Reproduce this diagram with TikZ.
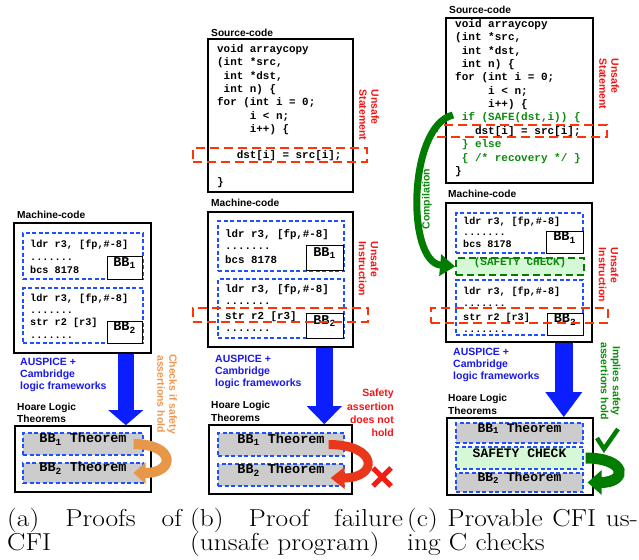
\documentclass[tikz,border=0pt]{standalone}
\usepackage{fontspec}
\setsansfont{Liberation Sans}
\setmonofont{Liberation Mono}
\usetikzlibrary{arrows.meta,calc,fit}
\definecolor{dblue}{RGB}{30,80,255}
\definecolor{ablue}{RGB}{10,30,255}
\definecolor{tblue}{RGB}{25,25,235}
\definecolor{tred}{RGB}{245,20,20}
\definecolor{rdash}{RGB}{255,50,10}
\definecolor{xred}{RGB}{240,30,20}
\definecolor{ared}{RGB}{235,55,25}
\definecolor{aorange}{RGB}{232,150,72}
\definecolor{torange}{RGB}{240,150,80}
\definecolor{dgreen}{RGB}{0,125,0}
\definecolor{tgreen}{RGB}{10,140,10}
\definecolor{lgreen}{RGB}{215,248,215}
\definecolor{thgray}{RGB}{204,204,204}
\tikzset{
  lbl/.style={font=\sffamily\bfseries\fontsize{10.2}{12.5}\selectfont, inner sep=0pt, align=left},
  side/.style={font=\sffamily\bfseries\fontsize{10.5}{12}\selectfont, inner sep=0pt},
  code/.style={font=\ttfamily\bfseries\fontsize{#1}{#1}\selectfont, inner sep=0pt, anchor=base west},
  outer/.style={draw=black, line width=1.6pt, inner sep=0pt},
  bbdash/.style={draw=dblue, line width=1.2pt, dash pattern=on 4pt off 2.5pt, inner sep=0pt},
  bblab/.style={draw=black, line width=1pt, fill=white, inner sep=0pt, font=\ttfamily\bfseries\fontsize{13.5}{14}\selectfont},
  thm/.style={bbdash, fill=thgray, font=\ttfamily\bfseries\fontsize{#1}{14}\selectfont},
  reddash/.style={draw=rdash, line width=1.8pt, dash pattern=on 9pt off 5pt, inner sep=0pt},
  bigarrow/.style={draw=ablue, line width=#1},
  captxt/.style={font=\fontsize{24.5}{24}\selectfont, inner sep=0pt, anchor=base west},
}
\newcommand{\capline}[2]{\scalebox{1.12}[1]{\hbox to #1pt{#2}}}
\begin{document}
\begin{tikzpicture}[x=1pt,y=-1pt]
\useasboundingbox (0,0) rectangle (639,559);

% ================= (a) =================
\node[lbl, anchor=west] (mlA) at (17,215) {Machine-code};
\node[outer, fit={(14,223) (151,353)}] (mcA) {};
\node[bbdash, fit={(23,233) (143,279)}] (bb1A) {};
\node[bbdash, fit={(23,288) (143,343)}] (bb2A) {};
\node[code=10.2] (a1) at (30,247.5) {ldr r3, [fp,\#-8]};
\node[code=10.2] (a2) at (30,260) {.......};
\node[code=10.2] (a3) at (30,273.5) {bcs 8178};
\node[code=10.2] (a4) at (30,301.5) {ldr r3, [fp,\#-8]};
\node[code=10.2] (a5) at (30,313.5) {.......};
\node[code=10.2] (a6) at (30,325.5) {str r2 [r3]};
\node[code=10.2] (a7) at (30,338) {.......};
\node[bblab, fit={(107,256) (142,279)}] (l1A) {BB\textsubscript{1}};
\node[bblab, fit={(107,321) (142,343)}] (l2A) {BB\textsubscript{2}};
\node[side, text=tblue, anchor=west, align=left] (auA) at (20,375) {AUSPICE +\\Cambridge\\logic frameworks};
\node[lbl, anchor=west] (hlA) at (17,413) {Hoare Logic\\Theorems};
\node[outer, fit={(15,426) (151,492)}] (thA) {};
\node[thm=13.5, fit={(23,433) (143,455)}] (t1A) {BB\textsubscript{1} Theorem};
\node[thm=13.5, fit={(23,463) (143,483)}] (t2A) {BB\textsubscript{2} Theorem};
\node[side, text=torange, rotate=-90, align=center] (ckA) at (167,394) {Checks if safety\\assertions hold};
\draw[bigarrow=16pt, -{Triangle[length=15pt,width=34pt]}] ($(mcA.south east)+(-26,0)$) -- ($(thA.north east)+(-26,0)$);
\draw[draw=aorange, line width=10pt, -{Triangle[length=12pt,width=21pt]}]
  ($(t1A.east)+(-10,0)$) .. controls +(42,0) and +(42,0) .. ($(t2A.east)+(-10,0)$);

% ================= (b) =================
\node[lbl, anchor=west] (slB) at (211,33) {Source-code};
\node[outer, fit={(208,39) (353,192)}] (srcB) {};
\node[code=10.9] (b1) at (217,52.5) {void arraycopy};
\node[code=10.9] (b2) at (217,65.8) {(int *src,};
\node[code=10.9] (b3) at (217,79.1) {~int *dst,};
\node[code=10.9] (b4) at (217,92.4) {~int n) \{};
\node[code=10.9] (b5) at (217,105.7) {for (int i = 0;};
\node[code=10.9] (b6) at (217,119) {~~~~~i < n;};
\node[code=10.9] (b7) at (217,132.3) {~~~~~i++) \{};
\node[code=10.9] (b8) at (217,158.9) {~~~dst[i] = src[i];};
\node[code=10.9] (b9) at (217,185.5) {\}};
\node[side, text=tred, rotate=-90, align=left] (usB) at (369,115) {Unsafe\\Statement};

\node[lbl, anchor=west] (mlB) at (211,203) {Machine-code};
\node[outer, fit={(208,212) (353,347)}] (mcB) {};
\node[bbdash, fit={(218,221) (344,271)}] (bb1B) {};
\node[bbdash, fit={(218,279) (344,338)}] (bb2B) {};
\node[code=10.8] (c1) at (225,237.5) {ldr r3, [fp,\#-8]};
\node[code=10.8] (c2) at (225,249.5) {.......};
\node[code=10.8] (c3) at (225,263.5) {bcs 8178};
\node[code=10.8] (c4) at (225,292.5) {ldr r3, [fp,\#-8]};
\node[code=10.8] (c5) at (225,304.5) {.......};
\node[code=10.8] (c6) at (225,319.5) {str r2 [r3]};
\node[code=10.8] (c7) at (225,331.5) {.......};
\node[bblab, fit={(306,245) (343,270)}] (l1B) {BB\textsubscript{1}};
\node[bblab, fit={(306,313) (343,338)}] (l2B) {BB\textsubscript{2}};
\node[side, text=tred, rotate=-90, align=left] (uiB) at (368.5,269) {Unsafe\\Instruction};
\node[side, text=tblue, anchor=west, align=left] (auB) at (215,372) {AUSPICE +\\Cambridge\\logic frameworks};
\node[lbl, anchor=west] (hlB) at (211,411.5) {Hoare Logic\\Theorems};
\node[side, text=tred, anchor=east, align=right, font=\sffamily\bfseries\fontsize{10.5}{13.3}\selectfont] (saB) at (394,413) {Safety\\assertion\\does not\\hold};
\node[outer, fit={(209,425) (352,494)}] (thB) {};
\node[thm=13.5, fit={(218,433) (344,456)}] (t1B) {BB\textsubscript{1} Theorem};
\node[thm=13.5, fit={(218,464) (344,486)}] (t2B) {BB\textsubscript{2} Theorem};
\node[reddash, fit={(193,148) (367,162)}] (rsB) {};
\node[reddash, fit={(193,308) (368,322)}] (riB) {};
\draw[bigarrow=17pt, -{Triangle[length=18pt,width=34pt]}] ($(mcB.south east)+(-29.5,0)$) -- ($(thB.north east)+(-28.5,0)$);
\draw[draw=ared, line width=9pt, -{Triangle[length=14pt,width=21pt]}]
  ($(t1B.east)+(-16,0)$) .. controls +(50,0) and +(48,0) .. ($(t2B.east)+(-14,3)$);
\draw[xred, line width=5pt] (373,468) -- (391,486) (373,486) -- (391,468);

% ================= (c) =================
\node[lbl, anchor=west] (slC) at (449,10) {Source-code};
\node[outer, fit={(446,18) (593,183)}] (srcC) {};
\node[code=11] (d1) at (455,27.5) {void arraycopy};
\node[code=11] (d2) at (455,40.9) {(int *src,};
\node[code=11] (d3) at (455,54.2) {~int *dst,};
\node[code=11] (d4) at (455,67.6) {~int n) \{};
\node[code=11] (d5) at (455,80.9) {for (int i = 0;};
\node[code=11] (d6) at (455,94.3) {~~~~~i < n;};
\node[code=11] (d7) at (455,107.7) {~~~~~i++) \{};
\node[code=11, text=tgreen] (d8) at (455,121) {~if (SAFE(dst,i)) \{};
\node[code=11] (d9) at (455,134.4) {~~~dst[i] = src[i];};
\node[code=11, text=tgreen] (d10) at (455,147.7) {~\} else};
\node[code=11, text=tgreen] (d11) at (455,161.1) {~\{ /* recovery */ \}};
\node[code=11] (d12) at (455,174.5) {\}};
\node[side, text=tred, rotate=-90, align=left] (usC) at (609,84) {Unsafe\\Statement};

\node[lbl, anchor=west] (mlC) at (448,194) {Machine-code};
\node[outer, fit={(446,203) (592,342)}] (mcC) {};
\node[bbdash, fit={(456,213) (583,253)}] (bb1C) {};
\node[draw=dgreen, line width=1.8pt, dash pattern=on 7pt off 4pt, fill=lgreen, inner sep=0pt, text=tgreen,
      font=\ttfamily\bfseries\fontsize{11}{12}\selectfont, fit={(456,258) (584,275)}] (scC) {(SAFETY CHECK)};
\node[bbdash, fit={(456,280) (583,335)}] (bb2C) {};
\node[code=10.1] (e1) at (463,224.5) {ldr r3, [fp,\#-8]};
\node[code=10.1] (e2) at (463,235) {.......};
\node[code=10.1] (e3) at (463,247.5) {bcs 8178};
\node[code=10.1] (e4) at (463,294.5) {ldr r3, [fp,\#-8]};
\node[code=10.1] (e5) at (463,306.5) {.......};
\node[code=10.1] (e6) at (463,320.5) {str r2 [r3]};
\node[code=10.1] (e7) at (463,332) {.......};
\node[bblab, fit={(546,231) (583,253)}] (l1C) {BB\textsubscript{1}};
\node[bblab, fit={(547,313) (583,335)}] (l2C) {BB\textsubscript{2}};
\node[side, text=tred, rotate=-90, align=left] (uiC) at (608.5,275) {Unsafe\\Instruction};
\node[side, text=tblue, anchor=west, align=left] (auC) at (453,365) {AUSPICE +\\Cambridge\\logic frameworks};
\node[side, text=tgreen, rotate=-90, align=center] (imC) at (610.5,381) {Implies safety\\assertions hold};
\node[lbl, anchor=west] (hlC) at (448,404.5) {Hoare Logic\\Theorems};
\node[outer, fit={(447,418) (593,495)}] (thC) {};
\node[thm=13, fit={(456,423) (583,443)}] (t1C) {BB\textsubscript{1} Theorem};
\node[bbdash, fill=lgreen, font=\ttfamily\bfseries\fontsize{13}{14}\selectfont, fit={(456,447) (583,469)}] (scT) {SAFETY CHECK};
\node[thm=13, fit={(456,473) (583,492)}] (t2C) {BB\textsubscript{2} Theorem};
\node[reddash, fit={(437,125) (607,137)}] (rsC) {};
\node[reddash, fit={(431,308) (608,323)}] (riC) {};
\node[side, text=tgreen, rotate=90] (coC) at (427,199) {Compilation};
\coordinate (compS) at (453,115);
\draw[draw=dgreen, line width=7pt, -{Triangle[length=15pt,width=21pt]}]
  (compS) .. controls (408,126) and (406,262) .. (scC.west);
\draw[bigarrow=18pt, -{Triangle[length=25pt,width=35pt]}] ($(mcC.south east)+(-29,0)$) -- ($(thC.north east)+(-30,0)$);
\draw[draw=dgreen, line width=11pt, -{Triangle[length=14pt,width=24pt]}]
  ($(scT.east)+(2,0)$) .. controls +(42,0) and +(40,0) .. ($(t2C.east)+(4,0)$);
\draw[dgreen, line width=4.5pt] (597,438) -- (604,449) -- (618,429);

% ================= captions =================
\node[captxt] (capA1) at (7,526) {\capline{156}{(a) Proofs of}};
\node[captxt] (capA2) at (7,550) {\capline{60}{CFI\hfil}};
\node[captxt] (capB1) at (190,526) {\capline{190}{(b) Proof failure}};
\node[captxt] (capB2) at (190,550) {\capline{170}{(unsafe program)\hfil}};
\node[captxt] (capC1) at (407,526) {\capline{206}{(c) Provable CFI us-}};
\node[captxt] (capC2) at (407,550) {\capline{150}{ing C checks\hfil}};
\end{tikzpicture}
\end{document}
